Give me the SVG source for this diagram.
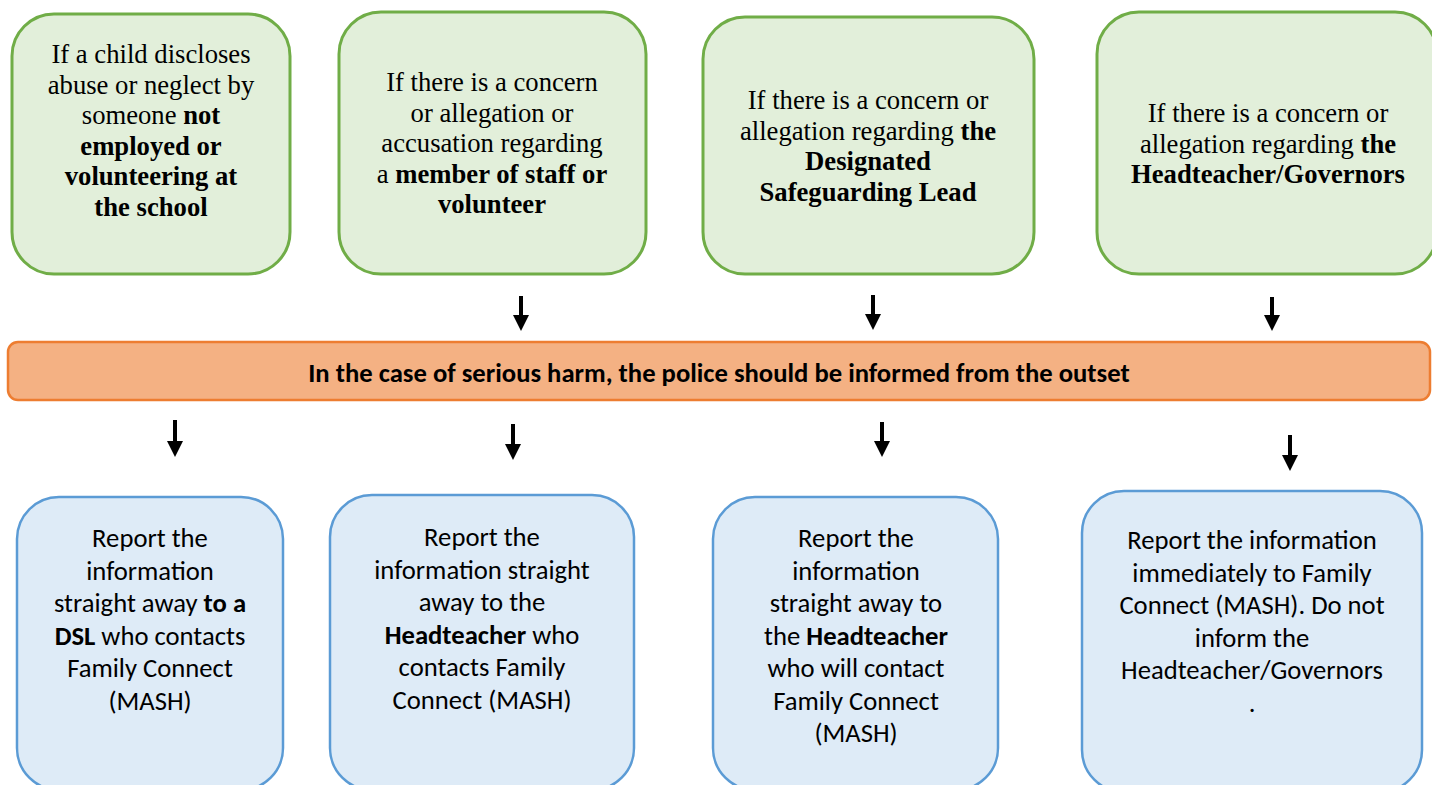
<svg xmlns="http://www.w3.org/2000/svg" width="1432" height="785" viewBox="0 0 1432 785">
<style>
.g{fill:#e2efda;stroke:#70ad47;stroke-width:3}
.b{fill:#deebf7;stroke:#5b9bd5;stroke-width:2.5}
.o{fill:#f4b183;stroke:#ed7d31;stroke-width:2.5}
.st{font-family:"Liberation Serif","Times New Roman",serif;font-size:26.67px;fill:#000;text-anchor:middle}
.sc{font-family:Carlito,Calibri,Lato,"Open Sans",sans-serif;font-size:26.67px;fill:#000;text-anchor:middle}
.ot{font-family:Carlito,Calibri,Lato,"Open Sans",sans-serif;font-size:26.67px;font-weight:bold;fill:#000;text-anchor:middle}
.bd{font-weight:bold}
.ar{stroke:#000;stroke-width:4;fill:none;marker-end:url(#ah)}
</style>
<defs>
<marker id="ah" markerWidth="4" markerHeight="4" refX="0" refY="2" orient="auto" markerUnits="strokeWidth" viewBox="0 0 4 4" overflow="visible">
<path d="M0,0 L4,2 L0,4 Z" fill="#000"/>
</marker>
</defs>
<rect width="1432" height="785" fill="#fff"/>

<g id="n1">
<rect class="g" x="12" y="14" width="278" height="260" rx="42"/>
<text class="st"><tspan x="151" y="63">If a child discloses</tspan><tspan x="151" y="93.5">abuse or neglect by</tspan><tspan x="151" y="124">someone <tspan class="bd">not</tspan></tspan><tspan x="151" y="154.5" class="bd">employed or</tspan><tspan x="151" y="185" class="bd">volunteering at</tspan><tspan x="151" y="215.5" class="bd">the school</tspan></text>
</g>
<g id="n2">
<rect class="g" x="339" y="12" width="307" height="262" rx="42"/>
<text class="st"><tspan x="492" y="91">If there is a concern</tspan><tspan x="492" y="121.5">or allegation or</tspan><tspan x="492" y="152">accusation regarding</tspan><tspan x="492" y="182.5">a <tspan class="bd">member of staff or</tspan></tspan><tspan x="492" y="213" class="bd">volunteer</tspan></text>
</g>
<g id="n3">
<rect class="g" x="703" y="17" width="331" height="257" rx="42"/>
<text class="st"><tspan x="868" y="109">If there is a concern or</tspan><tspan x="868" y="139.5">allegation regarding <tspan class="bd">the</tspan></tspan><tspan x="868" y="170" class="bd">Designated</tspan><tspan x="868" y="200.5" class="bd">Safeguarding Lead</tspan></text>
</g>
<g id="n4">
<rect class="g" x="1097" y="12" width="340" height="262" rx="42"/>
<text class="st"><tspan x="1268" y="122">If there is a concern or</tspan><tspan x="1268" y="152.5">allegation regarding <tspan class="bd">the</tspan></tspan><tspan x="1268" y="183" class="bd">Headteacher/Governors</tspan></text>
</g>

<g id="police">
<rect class="o" x="8" y="342" width="1422" height="58" rx="10"/>
<text class="ot" x="719" y="382">In the case of serious harm, the police should be informed from the outset</text>
</g>

<g id="r1">
<rect class="b" x="17" y="497" width="266" height="293" rx="42"/>
<text class="sc"><tspan x="150" y="547">Report the</tspan><tspan x="150" y="579.5">information</tspan><tspan x="150" y="612">straight away <tspan class="bd">to a</tspan></tspan><tspan x="150" y="644.5"><tspan class="bd">DSL</tspan> who contacts</tspan><tspan x="150" y="677">Family Connect</tspan><tspan x="150" y="709.5">(MASH)</tspan></text>
</g>
<g id="r2">
<rect class="b" x="330" y="495" width="304" height="295" rx="42"/>
<text class="sc"><tspan x="482" y="546">Report the</tspan><tspan x="482" y="578.5">information straight</tspan><tspan x="482" y="611">away to the</tspan><tspan x="482" y="643.5"><tspan class="bd">Headteacher</tspan> who</tspan><tspan x="482" y="676">contacts Family</tspan><tspan x="482" y="708.5">Connect (MASH)</tspan></text>
</g>
<g id="r3">
<rect class="b" x="713" y="497" width="285" height="293" rx="42"/>
<text class="sc"><tspan x="856" y="547">Report the</tspan><tspan x="856" y="579.5">information</tspan><tspan x="856" y="612">straight away to</tspan><tspan x="856" y="644.5">the <tspan class="bd">Headteacher</tspan></tspan><tspan x="856" y="677">who will contact</tspan><tspan x="856" y="709.5">Family Connect</tspan><tspan x="856" y="742">(MASH)</tspan></text>
</g>
<g id="r4">
<rect class="b" x="1082" y="491" width="340" height="301" rx="42"/>
<text class="sc"><tspan x="1252" y="549">Report the information</tspan><tspan x="1252" y="581.5">immediately to Family</tspan><tspan x="1252" y="614">Connect (MASH). Do not</tspan><tspan x="1252" y="646.5">inform the</tspan><tspan x="1252" y="679">Headteacher/Governors</tspan><tspan x="1252" y="711.5">.</tspan></text>
</g>

<g id="connectors">
<line class="ar" x1="521" y1="296" x2="521" y2="315"/>
<line class="ar" x1="873" y1="295" x2="873" y2="314"/>
<line class="ar" x1="1272" y1="297" x2="1272" y2="315"/>
<line class="ar" x1="175" y1="420" x2="175" y2="441"/>
<line class="ar" x1="513" y1="424" x2="513" y2="444"/>
<line class="ar" x1="882" y1="422" x2="882" y2="441"/>
<line class="ar" x1="1290" y1="435" x2="1290" y2="455"/>
</g>
</svg>
